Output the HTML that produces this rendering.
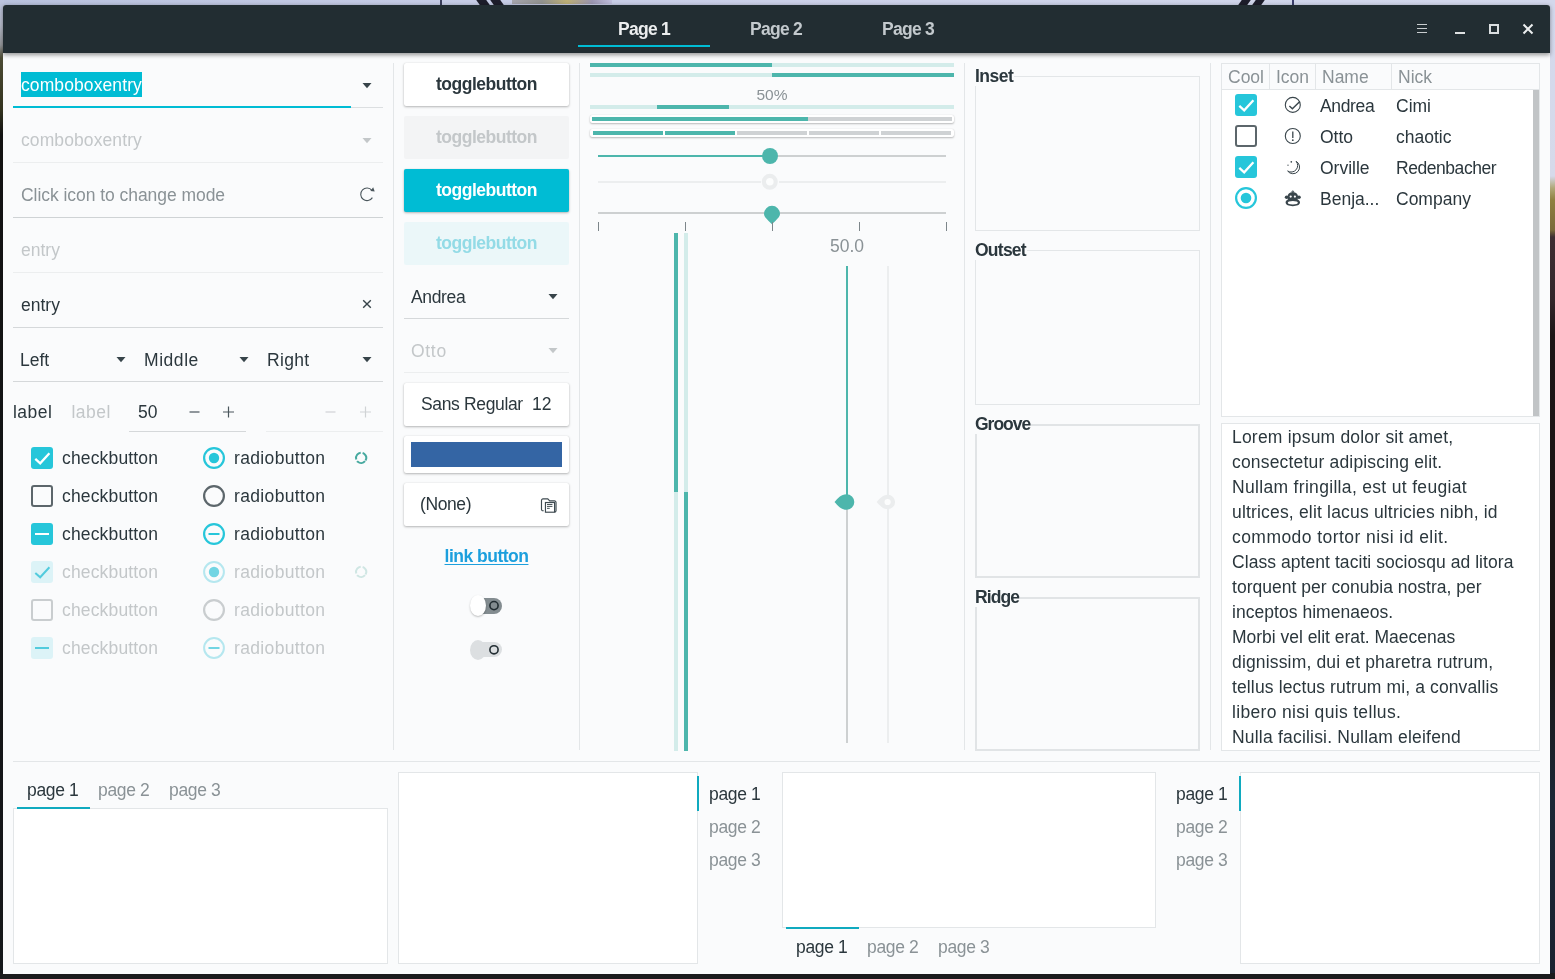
<!DOCTYPE html>
<html lang="en">
<head>
<meta charset="utf-8">
<title>GTK Widget Factory</title>
<style>
*{box-sizing:border-box;margin:0;padding:0}
html,body{width:1555px;height:979px;overflow:hidden}
body{position:relative;background:#17181b;font-family:"Liberation Sans",sans-serif;font-size:17.5px;line-height:20px;color:#2b373d}
.a{position:absolute}
.t{position:absolute;white-space:pre;line-height:20px;height:20px}
.b{font-weight:700;letter-spacing:-.5px}
.dis{color:#c3c7c9}
.sec{color:#8a9296}
.hl{position:absolute;height:1px;background:#dcdfe1}
.hl.d{background:#eceeef}
.vl{position:absolute;width:1px;background:#e3e6e8}
svg{position:absolute;overflow:visible}
/* wallpaper strips */
#wp-top{left:0;top:0;width:1555px;height:6px;background:linear-gradient(90deg,#b9c2de 0%,#c6cce6 30%,#cdd2e9 60%,#d3d8ec 100%)}
#wp-left{left:0;top:0;width:4px;height:979px;background:linear-gradient(180deg,#bcc4df 0,#b5b9c8 25px,#94969a 45px,#4c4b34 58px,#33331f 110px,#121212 135px,#15171a 979px)}
#wp-right{left:1549px;top:0;width:6px;height:979px;background:linear-gradient(180deg,#d3d8ec 0,#d6daea 176px,#b0a878 188px,#8f8040 200px,#7a6a3a 230px,#3e2e32 237px,#33262a 300px,#1d1516 335px,#1a1513 650px,#1c2735 800px,#1a2230 979px)}
#wp-bot{left:0;top:973px;width:1555px;height:6px;background:#1a1b1d}
#win{left:3px;top:5px;width:1547px;height:969px;background:#fafbfc;border-radius:3px 3px 0 0}
#hb{left:3px;top:5px;width:1547px;height:47.5px;background:#222d32;border-radius:3px 3px 0 0;box-shadow:0 1.500px 4px rgba(0,0,0,.4)}

.cb{position:absolute;width:22px;height:22px;border-radius:3px}
.cb.on{background:#26c6da}
.cb.off{border:2px solid #5c666b;background:transparent}
.cb.don{background:#dcf3f7}
.cb.doff{border:2px solid #c9cdcf}
.rb{position:absolute;width:22px;height:22px;border-radius:50%}

.btn{position:absolute;left:404px;width:165px;border-radius:2px;background:#fff;box-shadow:0 1px 2.5px rgba(0,0,0,.28),0 0 1px rgba(0,0,0,.12)}
.bt{position:absolute;left:404px;width:165px;text-align:center;white-space:pre;height:20px;font-weight:700;letter-spacing:-.5px}

.fr{position:absolute;left:975px;width:225px;border:1px solid #e3e6e8}
.fl{position:absolute;left:975px;white-space:pre;font-weight:700;letter-spacing:-.5px;background:#fafbfc;height:20px;padding-right:1px}
</style>
</head>
<body>
<div class="a" id="wp-top"></div>
<div class="a" id="wp-left"></div>
<div class="a" id="wp-right"></div>
<div class="a" id="wp-bot"></div>
<div class="a" style="left:440px;top:0;width:2px;height:5px;background:#3b3f5c"></div>
<div class="a" style="left:478px;top:0;width:10px;height:5px;background:#1d1d2b;transform:skewX(35deg)"></div>
<div class="a" style="left:492px;top:0;width:10px;height:5px;background:#1d1d2b;transform:skewX(35deg)"></div>
<div class="a" style="left:512px;top:0;width:100px;height:4px;background:linear-gradient(90deg,#8f8a86,#6d6a55 30%,#b59a2a 55%,#7c6f8c 80%,#b9b4d6);opacity:.6"></div>
<div class="a" style="left:1240px;top:0;width:9px;height:5px;background:#1d1d2b;transform:skewX(-35deg)"></div>
<div class="a" style="left:1254px;top:0;width:9px;height:5px;background:#1d1d2b;transform:skewX(-35deg)"></div>
<div class="a" style="left:1292px;top:0;width:2px;height:5px;background:#3b3f6c"></div>
<div class="a" id="win"></div>
<div class="a" id="hb"></div>
<!--HEADER-->
<div class="t b" style="left:578px;top:18.500px;width:132px;text-align:center;color:#eceeef;letter-spacing:-.75px">Page 1</div>
<div class="t b" style="left:710px;top:18.500px;width:132px;text-align:center;color:#c3c9cd;letter-spacing:-.75px">Page 2</div>
<div class="t b" style="left:842px;top:18.500px;width:132px;text-align:center;color:#c3c9cd;letter-spacing:-.75px">Page 3</div>
<div class="a" style="left:578px;top:45px;width:132px;height:2px;background:#00bcd4"></div>
<svg style="left:1412px;top:19px" width="20" height="20" viewBox="0 0 20 20"><path d="M5 5.500h10M5 9.500h10M5 13.500h10" stroke="#c9cdcf" stroke-width="1" fill="none"/></svg>
<svg style="left:1450px;top:19px" width="20" height="20" viewBox="0 0 20 20"><path d="M5 14h10" stroke="#dfe1e2" stroke-width="2" fill="none"/></svg>
<svg style="left:1483px;top:19px" width="20" height="20" viewBox="0 0 20 20"><rect x="7" y="6" width="8" height="8" stroke="#dadee0" stroke-width="2" fill="none"/></svg>
<svg style="left:1518px;top:19px" width="20" height="20" viewBox="0 0 20 20"><path d="M5.5 5.5l9 9M14.5 5.5l-9 9" stroke="#eceeef" stroke-width="2" fill="none"/></svg>
<!--COL1-->
<div class="a" style="left:21px;top:72px;width:121px;height:25px;background:#00bcd4"></div>
<div class="t" style="left:21px;top:75px;color:#fff;letter-spacing:.1px">comboboxentry</div>
<div class="hl" style="left:13px;top:107px;width:370px"></div>
<div class="a" style="left:13px;top:106px;width:338px;height:2px;background:#00bcd4"></div>
<svg style="left:362px;top:83px" width="10" height="6" viewBox="0 0 10 6"><path d="M.5 0h9l-4.500 5.200z" fill="#37444a"/></svg>
<div class="t dis" style="left:21px;top:130px;letter-spacing:.1px">comboboxentry</div>
<div class="hl d" style="left:13px;top:162px;width:370px"></div>
<svg style="left:362px;top:138px" width="10" height="6" viewBox="0 0 10 6"><path d="M.5 0h9l-4.500 5.200z" fill="#c3c7c9"/></svg>
<div class="t sec" style="left:21px;top:185px;letter-spacing:-.05px">Click icon to change mode</div>
<div class="hl" style="left:13px;top:217px;width:370px;background:#cfd3d5"></div>
<svg style="left:358.600px;top:186px" width="16" height="16" viewBox="0 0 16 16"><path d="M12.900 4.300A6.300 6.300 0 1 0 13.400 11.600" stroke="#4a565c" stroke-width="1.100" fill="none"/><path d="M14.200 1.300l1.500 4.100-4.300-.5z" fill="#4a565c"/></svg>
<div class="t dis" style="left:21px;top:240px">entry</div>
<div class="hl d" style="left:13px;top:272px;width:370px"></div>
<div class="t" style="left:21px;top:295px">entry</div>
<div class="hl" style="left:13px;top:327px;width:370px;background:#d5d8da"></div>
<svg style="left:362px;top:299px" width="10" height="10" viewBox="0 0 10 10"><path d="M1.200 1.200l7.600 7.600M8.800 1.200l-7.600 7.600" stroke="#37444a" stroke-width="1.400" fill="none"/></svg>
<div class="t" style="left:20px;top:350px">Left</div>
<svg style="left:116px;top:357px" width="10" height="6" viewBox="0 0 10 6"><path d="M.5 0h9l-4.500 5.200z" fill="#37444a"/></svg>
<div class="t" style="left:144px;top:350px;letter-spacing:.55px">Middle</div>
<svg style="left:239px;top:357px" width="10" height="6" viewBox="0 0 10 6"><path d="M.5 0h9l-4.500 5.200z" fill="#37444a"/></svg>
<div class="t" style="left:267px;top:350px;letter-spacing:.3px">Right</div>
<svg style="left:362px;top:357px" width="10" height="6" viewBox="0 0 10 6"><path d="M.5 0h9l-4.500 5.200z" fill="#37444a"/></svg>
<div class="hl" style="left:13px;top:381px;width:370px;background:#d5d8da"></div>
<div class="t" style="left:13px;top:402px;letter-spacing:.45px">label</div>
<div class="t dis" style="left:71.500px;top:402px;letter-spacing:.45px">label</div>
<div class="t" style="left:138px;top:402px">50</div>
<svg style="left:189px;top:406px" width="12" height="12" viewBox="0 0 12 12"><path d="M0.5 6h10" stroke="#4a565c" stroke-width="1.2"/></svg>
<svg style="left:223px;top:406px" width="12" height="12" viewBox="0 0 12 12"><path d="M0 6h11M5.5 .5v11" stroke="#4a565c" stroke-width="1.2"/></svg>
<div class="hl" style="left:129px;top:431px;width:117px;background:#d5d8da"></div>
<svg style="left:325px;top:406px" width="12" height="12" viewBox="0 0 12 12"><path d="M0.5 6h10" stroke="#d0d3d5" stroke-width="1.2"/></svg>
<svg style="left:360px;top:406px" width="12" height="12" viewBox="0 0 12 12"><path d="M0 6h11M5.5 .5v11" stroke="#d0d3d5" stroke-width="1.2"/></svg>
<div class="hl d" style="left:266px;top:431px;width:117px"></div>
<div class="cb on" style="left:31px;top:447px"></div><svg style="left:31px;top:447px" width="22" height="22" viewBox="0 0 22 22"><path d="M4.300 11.900L9.200 16.300L18.400 6.300" stroke="#fff" stroke-width="2.300" fill="none"/></svg>
<div class="t" style="left:62px;top:448px;letter-spacing:.16px">checkbutton</div>
<svg style="left:203px;top:447px" width="22" height="22" viewBox="0 0 22 22"><circle cx="11" cy="11" r="9.9" stroke="#26c6da" stroke-width="2.2" fill="none"/><circle cx="11" cy="11" r="5.200" fill="#26c6da"/></svg>
<div class="t" style="left:234px;top:448px;letter-spacing:.35px">radiobutton</div>
<svg style="left:354px;top:451px" width="14" height="14" viewBox="0 0 14 14"><circle cx="7.100" cy="6.900" r="5.100" stroke="#46a99f" stroke-width="2" fill="none" stroke-dasharray="8.900 1.780" transform="rotate(40 7.100 6.900)"/></svg>
<div class="cb off" style="left:31px;top:485px"></div>
<div class="t" style="left:62px;top:486px;letter-spacing:.16px">checkbutton</div>
<svg style="left:203px;top:485px" width="22" height="22" viewBox="0 0 22 22"><circle cx="11" cy="11" r="9.9" stroke="#5c666b" stroke-width="2.2" fill="none"/></svg>
<div class="t" style="left:234px;top:486px;letter-spacing:.35px">radiobutton</div>
<div class="cb on" style="left:31px;top:523px"></div><div class="a" style="left:35px;top:533px;width:14px;height:2px;background:#fff"></div>
<div class="t" style="left:62px;top:524px;letter-spacing:.16px">checkbutton</div>
<svg style="left:203px;top:523px" width="22" height="22" viewBox="0 0 22 22"><circle cx="11" cy="11" r="9.9" stroke="#26c6da" stroke-width="2.2" fill="none"/><path d="M5.5 11h11" stroke="#26c6da" stroke-width="2"/></svg>
<div class="t" style="left:234px;top:524px;letter-spacing:.35px">radiobutton</div>
<div class="cb don" style="left:31px;top:561px"></div><svg style="left:31px;top:561px" width="22" height="22" viewBox="0 0 22 22"><path d="M4.300 11.900L9.200 16.300L18.400 6.300" stroke="#52cbdd" stroke-width="2" fill="none"/></svg>
<div class="t dis" style="left:62px;top:562px;letter-spacing:.16px">checkbutton</div>
<svg style="left:203px;top:561px" width="22" height="22" viewBox="0 0 22 22"><circle cx="11" cy="11" r="9.900" stroke="#b5e7ef" stroke-width="2" fill="none"/><circle cx="11" cy="11" r="5.200" fill="#72d5e3"/></svg>
<div class="t dis" style="left:234px;top:562px;letter-spacing:.35px">radiobutton</div>
<svg style="left:354px;top:565px" width="14" height="14" viewBox="0 0 14 14"><circle cx="7.100" cy="6.900" r="5.100" stroke="#cfe6e3" stroke-width="2" fill="none" stroke-dasharray="8.900 1.780" transform="rotate(40 7.100 6.900)"/></svg>
<div class="cb doff" style="left:31px;top:599px"></div>
<div class="t dis" style="left:62px;top:600px;letter-spacing:.16px">checkbutton</div>
<svg style="left:203px;top:599px" width="22" height="22" viewBox="0 0 22 22"><circle cx="11" cy="11" r="9.9" stroke="#c9cdcf" stroke-width="2.2" fill="none"/></svg>
<div class="t dis" style="left:234px;top:600px;letter-spacing:.35px">radiobutton</div>
<div class="cb don" style="left:31px;top:637px"></div><div class="a" style="left:35px;top:647px;width:14px;height:2px;background:#52cbdd"></div>
<div class="t dis" style="left:62px;top:638px;letter-spacing:.16px">checkbutton</div>
<svg style="left:203px;top:637px" width="22" height="22" viewBox="0 0 22 22"><circle cx="11" cy="11" r="9.900" stroke="#b5e7ef" stroke-width="2" fill="none"/><path d="M5.500 11h11" stroke="#72d5e3" stroke-width="2"/></svg>
<div class="t dis" style="left:234px;top:638px;letter-spacing:.35px">radiobutton</div>
<div class="vl" style="left:393px;top:63px;height:687px"></div>
<!--COL2-->
<div class="btn" style="top:63px;height:43px"></div>
<div class="bt" style="top:73.5px;color:#2b373d">togglebutton</div>
<div class="btn" style="top:116px;height:43px;background:#f3f4f5;box-shadow:none"></div>
<div class="bt" style="top:126.5px;color:#c3c7c9">togglebutton</div>
<div class="btn" style="top:169px;height:43px;background:#00bcd4"></div>
<div class="bt" style="top:179.5px;color:#fff">togglebutton</div>
<div class="btn" style="top:222px;height:43px;background:#ebf7f9;box-shadow:none"></div>
<div class="bt" style="top:232.5px;color:#93dbe6">togglebutton</div>
<div class="t" style="left:411px;top:286.500px;letter-spacing:-.35px">Andrea</div>
<svg style="left:548px;top:294px" width="10" height="6" viewBox="0 0 10 6"><path d="M.5 0h9l-4.500 5.200z" fill="#37444a"/></svg>
<div class="hl" style="left:404px;top:318px;width:165px;background:#d5d8da"></div>
<div class="t dis" style="left:411px;top:340.500px;letter-spacing:.7px">Otto</div>
<svg style="left:548px;top:348px" width="10" height="6" viewBox="0 0 10 6"><path d="M.5 0h9l-4.500 5.200z" fill="#c3c7c9"/></svg>
<div class="hl d" style="left:404px;top:372px;width:165px"></div>
<div class="btn" style="top:383px;height:43px"></div>
<div class="t" style="left:421px;top:393.500px;letter-spacing:-.35px">Sans Regular</div>
<div class="t" style="left:532px;top:393.500px">12</div>
<div class="btn" style="top:436px;height:37px"></div>
<div class="a" style="left:411px;top:442px;width:151px;height:25px;background:#3465a4"></div>
<div class="btn" style="top:483px;height:43px"></div>
<div class="t" style="left:420px;top:494px;letter-spacing:-.4px">(None)</div>
<svg style="left:541px;top:497px" width="15.500" height="15.500" viewBox="0 0 16 16"><path d="M2.800 14.200h-.8a1.500 1.500 0 0 1-1.500-1.500v-9.200a1.500 1.500 0 0 1 1.500-1.500h5l2 2h5a1.500 1.500 0 0 1 1.500 1.500v8.700a1.500 1.500 0 0 1-1.200 1.400" stroke="#3e4a50" stroke-width="1.200" fill="none"/><rect x="4.600" y="5.700" width="9.400" height="10" stroke="#3e4a50" stroke-width="1.200" fill="#fff"/><path d="M6.200 7.700h5.600M6.200 9.700h5.600M6.200 11.700h2.800" stroke="#3e4a50" stroke-width="1" fill="none"/></svg>
<div class="bt" style="top:546px;color:#1c9fdd;text-decoration:underline;text-decoration-thickness:1px;text-underline-offset:1.500px">link button</div>
<div class="a" style="left:478px;top:598px;width:24px;height:16px;border-radius:0 8px 8px 0;background:#838c90"></div>
<div class="a" style="left:470px;top:595px;width:16px;height:21px;border-radius:50%;background:#fff;box-shadow:0 1px 2px rgba(0,0,0,.25)"></div>
<svg style="left:488px;top:600px" width="12" height="12" viewBox="0 0 12 12"><circle cx="6" cy="5.6" r="4.1" stroke="#222d32" stroke-width="1.6" fill="none"/></svg>
<div class="a" style="left:478px;top:642px;width:24px;height:15px;border-radius:0 8px 8px 0;background:#dcdfe1"></div>
<div class="a" style="left:470px;top:640px;width:16px;height:20px;border-radius:50%;background:#dcdfe1"></div>
<svg style="left:488px;top:644px" width="12" height="12" viewBox="0 0 12 12"><circle cx="6" cy="5.8" r="4.1" stroke="#222d32" stroke-width="1.6" fill="none"/></svg>
<div class="vl" style="left:579px;top:63px;height:687px"></div>
<!--COL3-->
<div class="a" style="left:590px;top:63px;width:364px;height:4px;background:#d3ecea"></div>
<div class="a" style="left:590px;top:63px;width:182px;height:4px;background:#4db6ac"></div>
<div class="a" style="left:590px;top:73px;width:364px;height:4px;background:#d3ecea"></div>
<div class="a" style="left:772px;top:73px;width:182px;height:4px;background:#4db6ac"></div>
<div class="t" style="left:722px;top:85px;width:100px;text-align:center;font-size:15.5px;color:#8a9296">50%</div>
<div class="a" style="left:590px;top:105px;width:364px;height:4px;background:#d3ecea"></div>
<div class="a" style="left:657px;top:105px;width:72px;height:4px;background:#4db6ac"></div>
<div class="a" style="left:590px;top:115px;width:364px;height:8px;background:#fff;border-radius:2px;box-shadow:0 1px 2px rgba(0,0,0,.25),0 0 1px rgba(0,0,0,.15)"></div>
<div class="a" style="left:592px;top:117px;width:360px;height:4px;background:#cfd2d4"></div>
<div class="a" style="left:592px;top:117px;width:216px;height:4px;background:#4db6ac"></div>
<div class="a" style="left:590px;top:129px;width:364px;height:8px;background:#fff;border-radius:2px;box-shadow:0 1px 2px rgba(0,0,0,.25),0 0 1px rgba(0,0,0,.15)"></div>
<div class="a" style="left:593px;top:131px;width:70px;height:4px;background:#4db6ac"></div>
<div class="a" style="left:665px;top:131px;width:70px;height:4px;background:#4db6ac"></div>
<div class="a" style="left:737px;top:131px;width:70px;height:4px;background:#cfd2d4"></div>
<div class="a" style="left:809px;top:131px;width:70px;height:4px;background:#cfd2d4"></div>
<div class="a" style="left:881px;top:131px;width:70px;height:4px;background:#cfd2d4"></div>
<div class="a" style="left:598px;top:155px;width:348px;height:2px;background:#cdd0d1"></div>
<div class="a" style="left:598px;top:155px;width:172px;height:2px;background:#4db6ac"></div>
<div class="a" style="left:762px;top:148px;width:16px;height:16px;border-radius:50%;background:#4db6ac"></div>
<div class="a" style="left:598px;top:181px;width:348px;height:2px;background:#eceeef"></div>
<div class="a" style="left:761px;top:180px;width:18px;height:4px;background:#fafbfc"></div><svg style="left:760px;top:172px" width="20" height="20" viewBox="0 0 20 20"><circle cx="9.800" cy="9.800" r="5.900" stroke="#ebedee" stroke-width="4.200" fill="#fcfdfd"/></svg>
<div class="a" style="left:598px;top:212px;width:348px;height:2px;background:#cdd0d1"></div>
<svg style="left:762px;top:204px" width="20" height="22" viewBox="0 0 20 22"><path d="M10 1.800a8 8 0 0 1 8 8c0 3.200-3 5.600-8 10.400c-5-4.800-8-7.200-8-10.400a8 8 0 0 1 8-8z" fill="#4db6ac"/></svg>
<div class="a" style="left:598px;top:222px;width:1px;height:9px;background:#7d868a"></div>
<div class="a" style="left:685px;top:222px;width:1px;height:9px;background:#7d868a"></div>
<div class="a" style="left:772px;top:222px;width:1px;height:9px;background:#7d868a"></div>
<div class="a" style="left:859px;top:222px;width:1px;height:9px;background:#7d868a"></div>
<div class="a" style="left:946px;top:222px;width:1px;height:9px;background:#7d868a"></div>
<div class="a" style="left:674px;top:233px;width:4px;height:518px;background:#d3ecea"></div>
<div class="a" style="left:674px;top:233px;width:4px;height:259px;background:#4db6ac"></div>
<div class="a" style="left:684px;top:233px;width:4px;height:518px;background:#d3ecea"></div>
<div class="a" style="left:684px;top:492px;width:4px;height:259px;background:#4db6ac"></div>
<div class="t" style="left:797px;top:236px;width:100px;text-align:center;color:#8a9296">50.0</div>
<div class="a" style="left:846px;top:266px;width:2px;height:477px;background:#cdd0d1"></div>
<div class="a" style="left:846px;top:266px;width:2px;height:236px;background:#4db6ac"></div>
<svg style="left:833px;top:492px" width="22" height="20" viewBox="0 0 22 20"><path d="M1.500 10c3.200-3.500 6.500-7.800 12-7.800a7.800 7.800 0 0 1 0 15.600c-5.500 0-8.800-4.300-12-7.800z" fill="#4db6ac"/></svg>
<div class="a" style="left:887px;top:266px;width:2px;height:477px;background:#eceeef"></div>
<svg style="left:875px;top:492px" width="22" height="20" viewBox="0 0 22 20"><path d="M1.600 10c3.200-3 5.700-7.200 11.300-7.200a7.200 7.200 0 0 1 0 14.400c-5.600 0-8.100-4.200-11.300-7.200z" fill="#ebedee"/><circle cx="12.600" cy="10" r="3.100" fill="#fcfdfd"/></svg>
<div class="vl" style="left:964px;top:63px;height:687px"></div>
<!--COL4-->
<div class="fr" style="top:76px;height:155px"></div>
<div class="fl" style="top:66px">Inset</div>
<div class="fr" style="top:250px;height:155px"></div>
<div class="fl" style="top:240px;letter-spacing:-.75px">Outset</div>
<div class="fr" style="top:424px;height:154px;border:2px solid #e1e4e6"></div>
<div class="fl" style="top:414px;letter-spacing:-1px">Groove</div>
<div class="fr" style="top:597px;height:154px;border:2px solid #e1e4e6"></div>
<div class="fl" style="top:587px;letter-spacing:-.9px">Ridge</div>
<div class="vl" style="left:1210px;top:63px;height:687px"></div>
<!--COL5-->
<div class="a" style="left:1221px;top:63px;width:319px;height:354px;border:1px solid #e3e6e8;background:#fff"></div>
<div class="a" style="left:1222px;top:64px;width:317px;height:26px;background:#fafbfc;border-bottom:1px solid #e3e6e8"></div>
<div class="vl" style="left:1269px;top:64px;height:25px"></div>
<div class="vl" style="left:1315px;top:64px;height:25px"></div>
<div class="vl" style="left:1391px;top:64px;height:25px"></div>
<div class="t sec" style="left:1228px;top:66.500px">Cool</div>
<div class="t sec" style="left:1276px;top:66.500px">Icon</div>
<div class="t sec" style="left:1322px;top:66.500px">Name</div>
<div class="t sec" style="left:1398px;top:66.500px">Nick</div>
<div class="a" style="left:1533px;top:90px;width:6px;height:326px;background:#c1c4c6"></div>
<div class="cb on" style="left:1235px;top:94px"></div><svg style="left:1235px;top:94px" width="22" height="22" viewBox="0 0 22 22"><path d="M4.300 11.900L9.200 16.300L18.400 6.300" stroke="#fff" stroke-width="2.300" fill="none"/></svg>
<div class="cb off" style="left:1235px;top:125px"></div>
<div class="cb on" style="left:1235px;top:156px"></div><svg style="left:1235px;top:156px" width="22" height="22" viewBox="0 0 22 22"><path d="M4.300 11.900L9.200 16.300L18.400 6.300" stroke="#fff" stroke-width="2.300" fill="none"/></svg>
<svg style="left:1235px;top:187px" width="22" height="22" viewBox="0 0 22 22"><circle cx="11" cy="11" r="9.900" stroke="#26c6da" stroke-width="2.200" fill="none"/><circle cx="11" cy="11" r="5.300" fill="#26c6da"/></svg>
<svg style="left:1284px;top:96px" width="18" height="18" viewBox="0 0 18 18"><circle cx="8.800" cy="8.900" r="7.500" stroke="#3a464c" stroke-width="1.100" fill="#fff"/><path d="M5.400 9.900l3 2.900 7.400-7.400" stroke="#3a464c" stroke-width="1.400" fill="none"/></svg>
<svg style="left:1284px;top:127px" width="18" height="18" viewBox="0 0 18 18"><circle cx="8.800" cy="9" r="7.500" stroke="#3a464c" stroke-width="1.100" fill="none"/><path d="M8.800 4.500v6.500" stroke="#3a464c" stroke-width="1.300" fill="none"/><circle cx="8.800" cy="13.200" r=".9" fill="#3a464c"/></svg>
<svg style="left:1284px;top:158px" width="18" height="18" viewBox="0 0 18 18"><path d="M12.100 3.300A6.600 6.600 0 1 1 3.650 13A6.500 6.500 0 0 0 12.100 3.300z" stroke="#3a464c" stroke-width="1" fill="none" stroke-linejoin="round"/><circle cx="7.300" cy="3.800" r=".85" fill="#3a464c"/><circle cx="4" cy="7.200" r=".65" fill="#3a464c"/></svg>
<svg style="left:1284px;top:190px" width="18" height="18" viewBox="0 0 18 18"><circle cx="2.600" cy="7.300" r="1.800" fill="#3a464c"/><circle cx="15" cy="7.300" r="1.800" fill="#3a464c"/><path d="M8.800 2.200c3.300 0 5.300 2 5.300 4.800c0 1.300-.6 2.300-.6 2.300c1.600.8 2.500 1.900 2.500 3.300c0 2.300-3.200 3.600-7.200 3.600s-7.200-1.300-7.200-3.600c0-1.400.9-2.500 2.500-3.300c0 0-.6-1-.6-2.300c0-2.800 2-4.800 5.300-4.800z" fill="#3a464c"/><path d="M8.800 .3v2.500M7.600 1l1.200 1.500M10 1l-1.200 1.500" stroke="#3a464c" stroke-width=".8"/><ellipse cx="8.800" cy="12.800" rx="5" ry="1.700" fill="#fff"/><circle cx="6.700" cy="6.600" r="1.100" fill="#fff"/><circle cx="10.900" cy="6.600" r="1.100" fill="#fff"/></svg>
<div class="t" style="left:1320px;top:95.5px;letter-spacing:-.35px">Andrea</div>
<div class="t" style="left:1396px;top:95.5px">Cimi</div>
<div class="t" style="left:1320px;top:126.5px">Otto</div>
<div class="t" style="left:1396px;top:126.5px">chaotic</div>
<div class="t" style="left:1320px;top:157.5px">Orville</div>
<div class="t" style="left:1396px;top:157.5px;letter-spacing:-.45px">Redenbacher</div>
<div class="t" style="left:1320px;top:188.5px">Benja...</div>
<div class="t" style="left:1396px;top:188.5px">Company</div>
<div class="a" style="left:1221px;top:423px;width:319px;height:328px;border:1px solid #e3e6e8;background:#fff;overflow:hidden">
<div class="t" style="left:10px;top:3px;letter-spacing:0.2px">Lorem ipsum dolor sit amet,</div>
<div class="t" style="left:10px;top:28px;letter-spacing:0.18px">consectetur adipiscing elit.</div>
<div class="t" style="left:10px;top:53px;letter-spacing:0.32px">Nullam fringilla, est ut feugiat</div>
<div class="t" style="left:10px;top:78px;letter-spacing:0.18px">ultrices, elit lacus ultricies nibh, id</div>
<div class="t" style="left:10px;top:103px;letter-spacing:0.44px">commodo tortor nisi id elit.</div>
<div class="t" style="left:10px;top:128px;letter-spacing:0.06px">Class aptent taciti sociosqu ad litora</div>
<div class="t" style="left:10px;top:153px;letter-spacing:0.02px">torquent per conubia nostra, per</div>
<div class="t" style="left:10px;top:178px;letter-spacing:0.04px">inceptos himenaeos.</div>
<div class="t" style="left:10px;top:203px;letter-spacing:-0.02px">Morbi vel elit erat. Maecenas</div>
<div class="t" style="left:10px;top:228px;letter-spacing:0.16px">dignissim, dui et pharetra rutrum,</div>
<div class="t" style="left:10px;top:253px;letter-spacing:0.13px">tellus lectus rutrum mi, a convallis</div>
<div class="t" style="left:10px;top:278px;letter-spacing:0.32px">libero nisi quis tellus.</div>
<div class="t" style="left:10px;top:303px;letter-spacing:0.2px">Nulla facilisi. Nullam eleifend</div>
</div>
<!--BOTTOM-->
<div class="hl" style="left:13px;top:761px;width:1527px;background:#e3e6e8"></div>
<div class="a" style="left:13px;top:808px;width:375px;height:156px;border:1px solid #e3e6e8;background:#fff"></div>
<div class="a" style="left:17px;top:807px;width:73px;height:2px;background:#10aabf"></div>
<div class="t" style="left:27px;top:780px;letter-spacing:-.35px">page 1</div>
<div class="t sec" style="left:98px;top:780px;letter-spacing:-.35px">page 2</div>
<div class="t sec" style="left:169px;top:780px;letter-spacing:-.35px">page 3</div>
<div class="a" style="left:398px;top:772px;width:300px;height:192px;border:1px solid #e3e6e8;background:#fff"></div>
<div class="a" style="left:697px;top:776px;width:2px;height:35px;background:#10aabf"></div>
<div class="t" style="left:709px;top:784px;letter-spacing:-.35px">page 1</div>
<div class="t sec" style="left:709px;top:817px;letter-spacing:-.35px">page 2</div>
<div class="t sec" style="left:709px;top:850px;letter-spacing:-.35px">page 3</div>
<div class="a" style="left:782px;top:772px;width:374px;height:156px;border:1px solid #e3e6e8;background:#fff"></div>
<div class="a" style="left:786px;top:927px;width:73px;height:2px;background:#10aabf"></div>
<div class="t" style="left:796px;top:937px;letter-spacing:-.35px">page 1</div>
<div class="t sec" style="left:867px;top:937px;letter-spacing:-.35px">page 2</div>
<div class="t sec" style="left:938px;top:937px;letter-spacing:-.35px">page 3</div>
<div class="a" style="left:1240px;top:772px;width:300px;height:192px;border:1px solid #e3e6e8;background:#fff"></div>
<div class="a" style="left:1239px;top:776px;width:2px;height:35px;background:#10aabf"></div>
<div class="t" style="left:1176px;top:784px;letter-spacing:-.35px">page 1</div>
<div class="t sec" style="left:1176px;top:817px;letter-spacing:-.35px">page 2</div>
<div class="t sec" style="left:1176px;top:850px;letter-spacing:-.35px">page 3</div>
</body>
</html>
